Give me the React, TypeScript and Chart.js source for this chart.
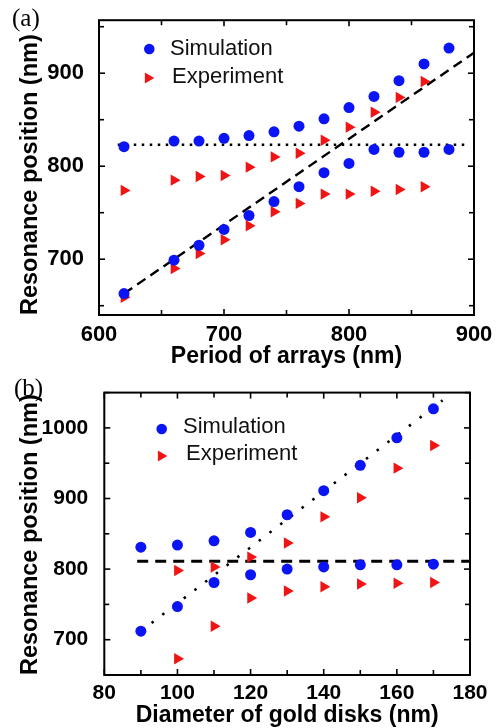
import React, { useEffect, useRef } from "react";
import { Chart, registerables } from "chart.js";
Chart.register(...registerables);

const SANS = '"Liberation Sans", Arial, Helvetica, sans-serif';
const SERIF = '"Liberation Serif", "Times New Roman", serif';
const BLUE = "#0a14f5";
const RED = "#f01414";

// ---------- Panel (a): period of arrays ----------
const periodSim = [620, 660, 680, 700, 720, 740, 760, 780, 800, 820, 840, 860, 880];
const simUpperA = [821, 827, 827, 830, 833, 837, 843, 851, 863, 875, 892, 910, 927];
const simLowerA = [663, 699, 715, 732, 747, 762, 778, 793, 803, 818, 815, 815, 818];
const periodExp = [620, 660, 680, 700, 720, 740, 760, 780, 800, 820, 840, 860];
const expUpperA = [774, 785, 789, 790, 799, 810, 814, 828, 842, 858, 874, 891];
const expLowerA = [659, 690, 706, 721, 736, 751, 760, 770, 770, 773, 775, 778];
const dottedAX = [615, 895];
const dottedAY = [823, 823];
const dashedAX = [620, 900];
const dashedAY = [663, 922];
const periodTicks = [600, 700, 800, 900];
const periodMinor = [650, 750, 850];
const resTicksA = [700, 800, 900];
const resMinorA = [650, 750, 850, 950];

// ---------- Panel (b): diameter of gold disks ----------
const diamSim = [90, 100, 110, 120, 130, 140, 150, 160, 170];
const simUpperB = [831, 834, 840, 852, 877, 911, 947, 986, 1027];
const simLowerB = [712, 747, 781, 792, 800, 803, 806, 806, 807];
const diamExp = [100, 110, 120, 130, 140, 150, 160, 170];
const expUpperB = [798, 803, 817, 837, 874, 901, 943, 975];
const expLowerB = [673, 719, 759, 769, 775, 779, 780, 781];
const dashedBX = [89, 180];
const dashedBY = [811, 811];
const dottedBX = [90, 172.5];
const dottedBY = [712, 1039];
const diamTicks = [80, 100, 120, 140, 160, 180];
const diamMinor = [90, 110, 130, 150, 170];
const resTicksB = [700, 800, 900, 1000];
const resMinorB = [650, 750, 850, 950, 1050];

const legendLabels = ["Simulation", "Experiment"];

function pts(xs: number[], ys: number[]) {
  return xs.map((x, i) => ({ x, y: ys[i] }));
}

function markerSets(sx: number[], su: number[], sl: number[], ex: number[], eu: number[], el: number[]) {
  const circle = { pointStyle: "circle", pointRadius: 5.5, backgroundColor: BLUE, borderColor: BLUE, borderWidth: 0, showLine: false };
  const tri = { pointStyle: "triangle", pointRadius: 6.6, pointRotation: 90, backgroundColor: RED, borderColor: RED, borderWidth: 0, showLine: false };
  return [
    { label: legendLabels[0], data: pts(sx, su), ...circle },
    { label: legendLabels[0] + " 2", data: pts(sx, sl), ...circle },
    { label: legendLabels[1], data: pts(ex, eu), ...tri },
    { label: legendLabels[1] + " 2", data: pts(ex, el), ...tri },
  ];
}

function lineSet(xs: number[], ys: number[], dash: number[], width: number) {
  return {
    label: "fit",
    data: pts(xs, ys),
    showLine: true,
    pointRadius: 0,
    borderColor: "#000",
    borderWidth: width,
    borderDash: dash,
    backgroundColor: "#000",
    fill: false,
  };
}

type Spec = {
  tag: string; tagX: number; tagY: number;
  height: number; padTop: number; padRight: number; yWidth: number; xHeight: number;
  xMin: number; xMax: number; yMin: number; yMax: number;
  xTicks: number[]; xMinor: number[]; yTicks: number[]; yMinor: number[];
  xTitle: string; tickSize: number; xTitlePad: number; yTickPad: number; xTickPad: number;
  leg: { cx: number; cy: number; tx: number; ty: number; tx2: number; ty2: number; cx2: number; cy2: number };
  datasets: any[];
};

const specA: Spec = {
  tag: "(a)", tagX: 12, tagY: 26,
  height: 372, padTop: 14, padRight: 22, yWidth: 99, xHeight: 57,
  xMin: 600, xMax: 900, yMin: 640, yMax: 957,
  xTicks: periodTicks, xMinor: periodMinor, yTicks: resTicksA, yMinor: resMinorA,
  xTitle: "Period of arrays (nm)", tickSize: 22, xTitlePad: 3.5, yTickPad: 7, xTickPad: -1,
  leg: { cx: 149.3, cy: 49, tx: 170, ty: 55, cx2: 148, cy2: 78, tx2: 172, ty2: 83 },
  datasets: [
    ...markerSets(periodSim, simUpperA, simLowerA, periodExp, expUpperA, expLowerA),
    lineSet(dottedAX, dottedAY, [2.5, 5.5], 2.6),
    lineSet(dashedAX, dashedAY, [10, 6], 2.4),
  ],
};

const specB: Spec = {
  tag: "(b)", tagX: 14, tagY: 24,
  height: 356, padTop: 8.7, padRight: 26, yWidth: 104.3, xHeight: 53,
  xMin: 80, xMax: 180, yMin: 650, yMax: 1050,
  xTicks: diamTicks, xMinor: diamMinor, yTicks: resTicksB, yMinor: resMinorB,
  xTitle: "Diameter of gold disks (nm)", tickSize: 21, xTitlePad: 0.5, yTickPad: 8, xTickPad: -2,
  leg: { cx: 161.7, cy: 57, tx: 183, ty: 61, cx2: 161, cy2: 84, tx2: 186, ty2: 88 },
  datasets: [
    ...markerSets(diamSim, simUpperB, simLowerB, diamExp, expUpperB, expLowerB),
    lineSet(dashedBX, dashedBY, [11, 7], 3),
    lineSet(dottedBX, dottedBY, [2.5, 11], 2.6),
  ],
};

function framePlugin(spec: Spec) {
  return {
    id: "frameTicks",
    afterDatasetsDraw(chart: any) {
      const { ctx, chartArea } = chart;
      const { left, right, top, bottom } = chartArea;
      const x = chart.scales.x;
      const y = chart.scales.y;
      ctx.save();
      ctx.strokeStyle = "#000";
      ctx.lineCap = "butt";
      ctx.lineWidth = 1.6;
      const seg = (x1: number, y1: number, x2: number, y2: number) => {
        ctx.beginPath();
        ctx.moveTo(x1, y1);
        ctx.lineTo(x2, y2);
        ctx.stroke();
      };
      const xs = [...spec.xTicks.map((v) => [v, 6]), ...spec.xMinor.map((v) => [v, 5])];
      for (const [v, len] of xs) {
        const p = x.getPixelForValue(v);
        seg(p, bottom, p, bottom - len);
        seg(p, top, p, top + len);
      }
      const ys = [...spec.yTicks.map((v) => [v, 6]), ...spec.yMinor.map((v) => [v, 5])];
      for (const [v, len] of ys) {
        const p = y.getPixelForValue(v);
        if (p < top - 0.5 || p > bottom + 0.5) continue;
        seg(left, p, left + len, p);
        seg(right, p, right - len, p);
      }
      ctx.lineWidth = 2;
      ctx.strokeRect(left, top, right - left, bottom - top);

      // legend (inside the plot)
      const L = spec.leg;
      ctx.fillStyle = BLUE;
      ctx.beginPath();
      ctx.arc(L.cx, L.cy, 5.3, 0, Math.PI * 2);
      ctx.fill();
      ctx.fillStyle = RED;
      const r = 6.3;
      ctx.beginPath();
      ctx.moveTo(L.cx2 + r, L.cy2);
      ctx.lineTo(L.cx2 - r / 2, L.cy2 - (r * Math.sqrt(3)) / 2);
      ctx.lineTo(L.cx2 - r / 2, L.cy2 + (r * Math.sqrt(3)) / 2);
      ctx.closePath();
      ctx.fill();
      ctx.fillStyle = "#111";
      ctx.font = `22px ${SANS}`;
      ctx.textAlign = "left";
      ctx.textBaseline = "alphabetic";
      ctx.fillText(legendLabels[0], L.tx, L.ty);
      ctx.fillText(legendLabels[1], L.tx2, L.ty2);

      // panel tag
      ctx.fillStyle = "#000";
      ctx.font = `25px ${SERIF}`;
      ctx.fillText(spec.tag, spec.tagX, spec.tagY);
      ctx.restore();
    },
  };
}

function Panel({ spec, top }: { spec: Spec; top: number }) {
  const ref = useRef<HTMLCanvasElement | null>(null);
  useEffect(() => {
    if (!ref.current) return;
    const tickFont = { family: SANS, size: spec.tickSize, weight: "bold" as const };
    const chart = new Chart(ref.current, {
      type: "scatter",
      data: { datasets: spec.datasets },
      options: {
        responsive: false,
        animation: false,
        events: [],
        layout: { padding: { top: spec.padTop, right: spec.padRight, left: 0, bottom: 0 } },
        plugins: { legend: { display: false }, tooltip: { enabled: false } },
        scales: {
          x: {
            type: "linear",
            min: spec.xMin,
            max: spec.xMax,
            grid: { display: false },
            border: { display: false },
            ticks: {
              color: "#000",
              font: tickFont,
              padding: spec.xTickPad,
              maxRotation: 0,
              autoSkip: false,
              callback: (v: any) => String(v),
            },
            afterBuildTicks: (s: any) => {
              s.ticks = spec.xTicks.map((v) => ({ value: v }));
            },
            afterFit: (s: any) => {
              s.height = spec.xHeight;
            },
            title: {
              display: true,
              text: spec.xTitle,
              color: "#000",
              font: { family: SANS, size: 23, weight: "bold", lineHeight: 1 },
              padding: { top: 0, bottom: spec.xTitlePad },
            },
          },
          y: {
            type: "linear",
            min: spec.yMin,
            max: spec.yMax,
            grid: { display: false },
            border: { display: false },
            ticks: {
              color: "#000",
              font: tickFont,
              padding: spec.yTickPad,
              autoSkip: false,
              callback: (v: any) => String(v),
            },
            afterBuildTicks: (s: any) => {
              s.ticks = spec.yTicks.map((v) => ({ value: v }));
            },
            afterFit: (s: any) => {
              s.width = spec.yWidth;
            },
            title: {
              display: true,
              align: "start",
              text: "Resonance position (nm)",
              color: "#000",
              font: { family: SANS, size: 23.5, weight: "bold", lineHeight: 1 },
              padding: { top: 19, bottom: 0 },
            },
          },
        },
      },
      plugins: [framePlugin(spec)],
    } as any);
    return () => chart.destroy();
  }, [spec]);
  return (
    <canvas
      ref={ref}
      width={496}
      height={spec.height}
      style={{ position: "absolute", left: 0, top, width: 496, height: spec.height, display: "block" }}
    />
  );
}

export default function App() {
  return (
    <div style={{ position: "absolute", left: 0, top: 0, width: 496, height: 728, background: "#fff" }}>
      <Panel spec={specA} top={0} />
      <Panel spec={specB} top={372} />
    </div>
  );
}
